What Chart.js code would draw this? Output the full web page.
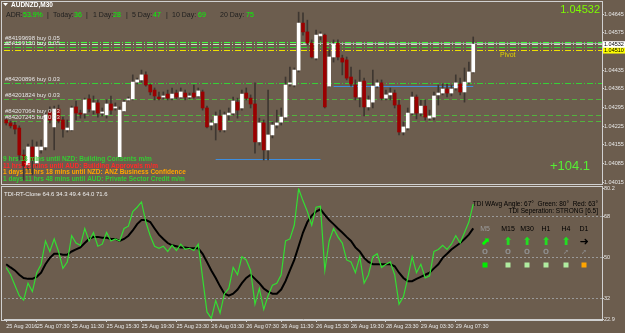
<!DOCTYPE html>
<html>
<head>
<meta charset="utf-8">
<script src="https://cdn.jsdelivr.net/npm/chart.js@4.4.0/dist/chart.umd.min.js"></script>
<style>
  html, body { margin: 0; padding: 0; background: #6c5d4e; }
  #wrap { position: relative; width: 625px; height: 333px; overflow: hidden; }
  canvas { position: absolute; left: 0; }
  #priceCanvas { top: 0; z-index: 2; }
  #tdiCanvas { top: 185px; z-index: 1; }
</style>
</head>
<body>
<div id="wrap">
  <canvas id="priceCanvas" width="625" height="190" style="width:625px;height:190px"></canvas>
  <canvas id="tdiCanvas" width="625" height="148" style="width:625px;height:148px"></canvas>
</div>
<script>
// AUDNZD M30 candles
const opens  = [1.04248,1.04237,1.04229,1.04218,1.04117,1.04080,1.04147,1.04087,1.04136,1.04147,
                1.04278,1.04222,1.04289,1.04248,1.04211,1.04211,1.04297,1.04274,1.04274,1.04327,
                1.04285,1.04312,1.04274,1.04267,1.04308,1.04293,1.04110,1.04282,1.04323,1.04327,
                1.04390,1.04398,1.04417,1.04379,1.04360,1.04334,1.04334,1.04345,1.04330,1.04349,
                1.04334,1.04349,1.04334,1.04349,1.04338,1.04353,1.04293,1.04229,1.04237,1.04263,
                1.04211,1.04267,1.04274,1.04315,1.04293,1.04349,1.04330,1.04308,1.04166,1.04237,
                1.04136,1.04192,1.04229,1.04240,1.04259,1.04383,1.04379,1.04435,1.04611,1.04578,
                1.04536,1.04480,1.04563,1.04566,1.04375,1.04484,1.04536,1.04480,1.04473,1.04409,
                1.04379,1.04334,1.04394,1.04297,1.04315,1.04375,1.04387,1.04330,1.04342,1.04349,
                1.04304,1.04203,1.04218,1.04274,1.04334,1.04274,1.04300,1.04255,1.04259,1.04342,
                1.04349,1.04364,1.04349,1.04368,1.04383,1.04353,1.04390,1.04428];
const highs  = [1.04255,1.04244,1.04240,1.04226,1.04136,1.04158,1.04173,1.04166,1.04173,1.04278,
                1.04297,1.04300,1.04304,1.04259,1.04248,1.04300,1.04319,1.04285,1.04330,1.04342,
                1.04338,1.04323,1.04293,1.04323,1.04338,1.04312,1.04297,1.04323,1.04334,1.04417,
                1.04405,1.04435,1.04428,1.04383,1.04368,1.04353,1.04353,1.04360,1.04368,1.04360,
                1.04368,1.04360,1.04349,1.04379,1.04368,1.04360,1.04300,1.04248,1.04278,1.04285,
                1.04278,1.04293,1.04334,1.04330,1.04360,1.04368,1.04342,1.04387,1.04255,1.04248,
                1.04360,1.04240,1.04285,1.04293,1.04409,1.04446,1.04443,1.04652,1.04649,1.04622,
                1.04548,1.04585,1.04578,1.04570,1.04510,1.04548,1.04548,1.04491,1.04484,1.04446,
                1.04398,1.04435,1.04405,1.04338,1.04435,1.04398,1.04398,1.04360,1.04368,1.04360,
                1.04323,1.04240,1.04293,1.04353,1.04342,1.04323,1.04323,1.04285,1.04353,1.04379,
                1.04383,1.04383,1.04379,1.04417,1.04405,1.04443,1.04465,1.04559];
const lows   = [1.04229,1.04218,1.04196,1.04098,1.04023,1.04061,1.04042,1.04076,1.04124,1.04136,
                1.04237,1.04136,1.04237,1.04184,1.04203,1.04207,1.04248,1.04255,1.04255,1.04278,
                1.04270,1.04259,1.04263,1.04255,1.04270,1.04285,1.04106,1.04278,1.04319,1.04323,
                1.04383,1.04390,1.04375,1.04342,1.04323,1.04323,1.04327,1.04323,1.04323,1.04327,
                1.04330,1.04323,1.04327,1.04330,1.04334,1.04285,1.04218,1.04211,1.04173,1.04203,
                1.04203,1.04248,1.04267,1.04255,1.04285,1.04323,1.04293,1.04124,1.04154,1.04098,
                1.04098,1.04181,1.04218,1.04229,1.04252,1.04375,1.04372,1.04428,1.04566,1.04529,
                1.04480,1.04473,1.04548,1.04293,1.04372,1.04465,1.04473,1.04417,1.04398,1.04375,
                1.04323,1.04297,1.04263,1.04285,1.04293,1.04368,1.04323,1.04323,1.04323,1.04293,
                1.04192,1.04192,1.04211,1.04267,1.04252,1.04263,1.04248,1.04248,1.04248,1.04304,
                1.04342,1.04334,1.04338,1.04360,1.04342,1.04315,1.04383,1.04424];
const closes = [1.04237,1.04226,1.04214,1.04117,1.04076,1.04147,1.04098,1.04147,1.04147,1.04267,
                1.04248,1.04289,1.04244,1.04214,1.04218,1.04293,1.04274,1.04270,1.04323,1.04289,
                1.04312,1.04274,1.04278,1.04308,1.04285,1.04297,1.04285,1.04315,1.04327,1.04390,
                1.04398,1.04417,1.04379,1.04353,1.04338,1.04327,1.04338,1.04330,1.04345,1.04334,
                1.04353,1.04334,1.04338,1.04334,1.04357,1.04293,1.04222,1.04237,1.04263,1.04211,
                1.04267,1.04274,1.04319,1.04285,1.04345,1.04330,1.04308,1.04166,1.04237,1.04136,
                1.04192,1.04229,1.04237,1.04259,1.04379,1.04387,1.04435,1.04611,1.04578,1.04536,
                1.04484,1.04566,1.04570,1.04297,1.04484,1.04533,1.04484,1.04465,1.04405,1.04383,
                1.04334,1.04390,1.04297,1.04323,1.04375,1.04387,1.04330,1.04342,1.04349,1.04304,
                1.04203,1.04222,1.04274,1.04334,1.04274,1.04300,1.04259,1.04263,1.04338,1.04349,
                1.04364,1.04349,1.04364,1.04387,1.04353,1.04390,1.04428,1.04532];

// TDI lines (RSI price line = green, trade signal = black)
const tdiGreen = [45.5,42.3,37.7,33.1,31.2,38.6,34.9,43.2,46.9,57.1,
                  52.5,58.0,52.5,45.1,47.9,59.4,56.2,55.2,62.6,57.1,
                  60.8,54.8,55.7,60.8,57.1,58.0,57.1,62.6,63.6,70.0,
                  71.9,74.2,65.4,59.4,54.8,53.9,54.8,52.5,55.2,52.9,
                  55.7,53.4,53.9,52.9,55.7,40.9,26.0,23.2,31.0,25.5,
                  34.0,36.3,45.5,42.3,50.2,48.8,44.2,29.4,36.3,27.1,
                  33.1,37.7,38.6,42.3,57.1,58.0,64.0,80.0,74.7,70.0,
                  64.0,71.9,72.3,44.2,57.1,62.6,58.9,56.2,48.8,47.9,
                  43.2,50.2,38.6,42.3,50.2,51.5,45.5,46.9,47.9,42.3,
                  29.4,32.6,40.9,50.2,43.2,46.9,40.9,41.8,52.5,53.4,
                  55.2,53.4,55.7,59.4,56.2,60.8,65.4,73.3];
const tdiBlack = [46.9,45.5,44.2,42.3,40.9,40.5,40.5,41.4,43.2,46.9,
                  49.7,51.5,51.5,51.1,51.1,52.5,53.4,54.3,56.2,58.0,
                  58.9,58.9,58.5,58.5,58.0,58.0,57.1,58.0,59.4,61.7,
                  64.5,66.3,66.3,65.4,62.6,59.9,58.0,56.2,55.2,54.8,
                  54.3,54.3,53.9,53.9,53.9,51.5,47.9,44.2,40.9,37.2,
                  34.0,33.1,34.0,35.8,38.6,40.9,42.3,40.5,38.6,36.3,
                  34.9,34.0,34.0,35.8,39.5,44.2,48.8,54.8,60.8,65.4,
                  68.2,70.0,71.0,68.6,66.3,64.5,62.6,60.8,58.9,57.1,
                  54.3,52.5,49.7,47.9,46.9,46.9,46.9,46.9,46.9,46.0,
                  43.2,40.9,39.5,39.5,40.5,41.4,42.3,43.2,45.1,46.9,
                  49.7,51.5,53.4,54.8,56.2,58.0,59.9,62.6];

// time axis
const tickLabels = ['25 Aug 2016','25 Aug 07:30','25 Aug 11:30','25 Aug 15:30','25 Aug 19:30','25 Aug 23:30',
                    '26 Aug 03:30','26 Aug 07:30','26 Aug 11:30','26 Aug 15:30','26 Aug 19:30',
                    '28 Aug 23:30','29 Aug 03:30','29 Aug 07:30'];
const tickBars = [0,7,15,23,31,39,47,55,63,71,79,87,95,103];
const slotCount = 137;

// price / indicator axis ticks
const priceTicks = [1.04015,1.04085,1.04155,1.04225,1.04295,1.04365,1.04435,1.04505,1.04575,1.04645];
const tdiTicks = [22.9,32,50,68,80.2];
const tdiLevels = [32,50,68];

// trade lines and levels
const orderLevels = [1.04539,1.04521,1.04388,1.04327,1.04267,1.04245];
const orderLabels = ['#84199698 buy 0.05','#84199130 buy 0.05','#84200896 buy 0.03',
                     '#84201824 buy 0.03','#84207064 buy 0.03','#84207245 buy 0.03'];
const bidPrice = 1.04532;
const pivotPrice = 1.04510;
const blueLevels = [1.04375, 1.04102];
const blueFrom = [75, 48];
const blueTo = [107, 72];

const headerParts = [['ADR:',6,0],['53.9%',23,1],['|',47,0],['Today:',53,0],['36',74,1],['|',86,0],
                     ['1 Day:',93,0],['28',113,1],['|',126,0],['5 Day:',132,0],['47',153,1],['|',166,0],
                     ['10 Day:',172,0],['69',198,1],['20 Day:',220,0],['75',246,1]];
const newsLines = ['9 hrs 18 mins until NZD: Building Consents m/m',
                   '11 hrs 18 mins until AUD: Building Approvals m/m',
                   '1 days 11 hrs 18 mins until NZD: ANZ Business Confidence',
                   '1 days 11 hrs 48 mins until AUD: Private Sector Credit m/m'];
const newsColors = ['#33cc33','#ff2a2a','#ffa500','#33cc33'];

const tfLabels = ['M5','M15','M30','H1','H4','D1'];
const tfArrows = ['\u2B08','\u2B06','\u2B06','\u2B06','\u2B06','\u279C'];
const tfArrowColors = ['#00ff00','#22dd22','#22dd22','#22dd22','#22dd22','#000000'];
const tfState = ['O','O','O','O','\u279A','\u279A'];
const tfSquares = ['#00ee00','#b0eca0','#b0eca0','#b0eca0','#b0eca0','#ffa500'];

const font = "'Liberation Sans', Arial, sans-serif";
const axisColor = '#d0d0d0';
const labelColor = '#e8e8e8';

const categories = Array.from({length: slotCount}, (_, i) => {
    const k = tickBars.indexOf(i);
    return k >= 0 ? tickLabels[k] : '';
});

function hLine(ctx, x1, x2, yy, color, dash, width) {
    ctx.save();
    ctx.strokeStyle = color;
    ctx.lineWidth = width || 1;
    ctx.setLineDash(dash || []);
    ctx.beginPath();
    ctx.moveTo(x1, Math.round(yy) + 0.5);
    ctx.lineTo(x2, Math.round(yy) + 0.5);
    ctx.stroke();
    ctx.restore();
}

// lines behind the candles, texts on top
const priceOverlay = {
    id: 'priceOverlay',
    beforeDatasetsDraw(chart) {
        const {ctx, chartArea: a, scales: {x, y}} = chart;
        const dashDot = [6, 2, 1, 2];
        hLine(ctx, a.left, a.right, y.getPixelForValue(orderLevels[0]), '#3cff3c', dashDot);
        hLine(ctx, a.left, a.right, y.getPixelForValue(bidPrice), '#c8e8c0', dashDot);
        hLine(ctx, a.left, a.right, y.getPixelForValue(orderLevels[1]), '#2ed82e', dashDot);
        hLine(ctx, a.left, a.right, y.getPixelForValue(pivotPrice), '#f0e000', dashDot);
        hLine(ctx, a.left, a.right, y.getPixelForValue(orderLevels[2]), '#36d036', dashDot);
        for (let k = 3; k < orderLevels.length; k++) {
            hLine(ctx, a.left, a.right, y.getPixelForValue(orderLevels[k]), '#52b23e', [5, 3]);
        }
        hLine(ctx, x.getPixelForValue(68), a.right, y.getPixelForValue(bidPrice) - 1, '#a8a8a8', []);
        blueLevels.forEach((p, k) => {
            hLine(ctx, x.getPixelForValue(blueFrom[k]), x.getPixelForValue(blueTo[k]), y.getPixelForValue(p), '#3d8ee0', []);
        });
    },
    afterDraw(chart) {
        const {ctx, scales: {y}} = chart;
        ctx.save();
        // frame
        ctx.strokeStyle = axisColor;
        ctx.lineWidth = 1;
        ctx.strokeRect(1.5, 1.5, 601, 183);

        // symbol caption
        ctx.fillStyle = '#ffffff';
        ctx.beginPath();
        ctx.moveTo(3, 3); ctx.lineTo(8, 3); ctx.lineTo(5.5, 6); ctx.closePath(); ctx.fill();
        ctx.font = `bold 6.5px ${font}`;
        ctx.textBaseline = 'middle';
        ctx.fillText('AUDNZD,M30', 11, 5.5);

        // ADR line
        ctx.font = `7px ${font}`;
        headerParts.forEach(([t, px, isVal]) => {
            ctx.fillStyle = isVal ? '#00ff00' : '#1e1e1e';
            ctx.fillText(t, px, 15);
        });

        // order labels
        ctx.font = `6px ${font}`;
        ctx.fillStyle = '#e4e4e4';
        ctx.textBaseline = 'bottom';
        orderLevels.forEach((p, k) => {
            ctx.fillText(orderLabels[k], 5, y.getPixelForValue(p) - 0.5);
        });

        // news countdown
        ctx.font = `bold 6.5px ${font}`;
        ctx.textBaseline = 'middle';
        newsLines.forEach((t, k) => {
            ctx.fillStyle = newsColors[k];
            ctx.fillText(t, 3, 159 + k * 6.8);
        });

        // big price, pivot, profit
        ctx.textAlign = 'right';
        ctx.fillStyle = '#7cfc00';
        ctx.font = `11px ${font}`;
        ctx.fillText(bidPrice.toFixed(5), 600, 10);
        ctx.fillStyle = '#55ee33';
        ctx.font = `13px ${font}`;
        ctx.fillText('+104.1', 590, 166);
        ctx.textAlign = 'left';
        ctx.fillStyle = '#e0d000';
        ctx.font = `7px ${font}`;
        ctx.fillText('Pivot', 500, 55);

        // highlighted axis labels
        ctx.font = `5.5px ${font}`;
        [[pivotPrice, '#ffff00'], [bidPrice, '#ffffff']].forEach(([p, bg]) => {
            const py = y.getPixelForValue(p);
            ctx.fillStyle = bg;
            ctx.fillRect(603, py - 3, 22, 6.5);
            ctx.fillStyle = '#000000';
            ctx.fillText(p.toFixed(5), 604, py + 0.3);
        });
        ctx.restore();
    }
};

const tdiOverlay = {
    id: 'tdiOverlay',
    beforeDatasetsDraw(chart) {
        const {ctx, chartArea: a, scales: {y}} = chart;
        tdiLevels.forEach(v => hLine(ctx, a.left, a.right, y.getPixelForValue(v), '#9a9a9a', [2, 2]));
    },
    afterDraw(chart) {
        const {ctx} = chart;
        const top = 185;
        ctx.save();
        ctx.strokeStyle = axisColor;
        ctx.lineWidth = 1;
        ctx.strokeRect(1.5, 1.5, 601, 134);

        ctx.textBaseline = 'middle';
        ctx.font = `6px ${font}`;
        ctx.fillStyle = '#f0f0f0';
        ctx.fillText('TDI-RT-Clone 64.6 34.3 49.4 64.0 71.6', 4, 194 - top);

        ctx.fillStyle = '#000000';
        ctx.textAlign = 'right';
        ctx.font = `6.5px ${font}`;
        ctx.fillText('TDI WAvg Angle: 67\u00B0  Green: 80\u00B0  Red: 63\u00B0', 598, 204.5 - top);
        ctx.fillText('TDI Seperation: STRONG [6.5]', 598, 211.5 - top);

        const tfX = [485, 508, 527, 546, 566, 584];
        ctx.textAlign = 'center';
        tfLabels.forEach((t, k) => {
            ctx.font = `7px ${font}`;
            ctx.fillStyle = k === 0 ? '#9c9c9c' : '#000000';
            ctx.fillText(t, tfX[k], 229 - top);
            ctx.font = `bold 11px 'DejaVu Sans', sans-serif`;
            ctx.fillStyle = tfArrowColors[k];
            ctx.fillText(tfArrows[k], tfX[k], 242 - top);
            ctx.font = `bold 7px 'DejaVu Sans', sans-serif`;
            ctx.fillStyle = '#8e8e8e';
            ctx.fillText(tfState[k], tfX[k], 252.5 - top);
            ctx.fillStyle = tfSquares[k];
            ctx.fillRect(tfX[k] - 2.5, 262.5 - top, 5, 5);
        });
        ctx.restore();
    }
};

new Chart(document.getElementById('priceCanvas'), {
    type: 'bar',
    data: {
        labels: categories,
        datasets: [
            {
                label: 'bodies',
                data: opens.map((o, i) => [o, closes[i]]),
                backgroundColor: opens.map((o, i) => closes[i] >= o ? '#ffffff' : '#9a0000'),
                barThickness: 3,
                minBarLength: 1,
                grouped: false,
                order: 0
            },
            {
                label: 'wicks',
                data: lows.map((l, i) => [l, highs[i]]),
                backgroundColor: '#3e3731',
                barThickness: 1,
                grouped: false,
                order: 1
            }
        ]
    },
    options: {
        responsive: false,
        animation: false,
        layout: { padding: { left: 4, top: 4, right: 0, bottom: 7 } },
        plugins: { legend: { display: false }, tooltip: { enabled: false } },
        scales: {
            x: { type: 'category', offset: true, display: false },
            y: {
                position: 'right',
                min: 1.040120,
                max: 1.046825,
                afterBuildTicks: s => { s.ticks = priceTicks.map(v => ({ value: v })); },
                afterFit: s => { s.width = 23; },
                grid: { drawOnChartArea: false, tickLength: 2, color: axisColor },
                border: { color: axisColor },
                ticks: { font: { size: 5.5, family: font }, color: labelColor, padding: 0, callback: v => v.toFixed(5) }
            }
        }
    },
    plugins: [priceOverlay]
});

new Chart(document.getElementById('tdiCanvas'), {
    type: 'line',
    data: {
        labels: categories,
        datasets: [
            { label: 'Green', data: tdiGreen, borderColor: '#33dd33', borderWidth: 1.2, pointRadius: 0, order: 0 },
            { label: 'Black', data: tdiBlack, borderColor: '#000000', borderWidth: 2, pointRadius: 0, order: 1 }
        ]
    },
    options: {
        responsive: false,
        animation: false,
        layout: { padding: { left: 4, top: 3, right: 0, bottom: 0 } },
        plugins: { legend: { display: false }, tooltip: { enabled: false } },
        scales: {
            x: {
                type: 'category',
                offset: true,
                afterFit: s => { s.height = 14; },
                grid: {
                    offset: false,
                    drawOnChartArea: false,
                    tickLength: 3,
                    color: c => categories[c.index] ? axisColor : 'rgba(0,0,0,0)'
                },
                border: { color: axisColor },
                ticks: {
                    autoSkip: false, maxRotation: 0, minRotation: 0, align: 'start', padding: 1,
                    font: { size: 5.5, family: font }, color: labelColor
                }
            },
            y: {
                position: 'right',
                min: 22.9,
                max: 80.2,
                afterBuildTicks: s => { s.ticks = tdiTicks.map(v => ({ value: v })); },
                afterFit: s => { s.width = 23; },
                grid: { drawOnChartArea: false, tickLength: 2, color: axisColor },
                border: { color: axisColor },
                ticks: { font: { size: 5.5, family: font }, color: labelColor, padding: 0, callback: v => String(v) }
            }
        }
    },
    plugins: [tdiOverlay]
});
</script>
</body>
</html>
